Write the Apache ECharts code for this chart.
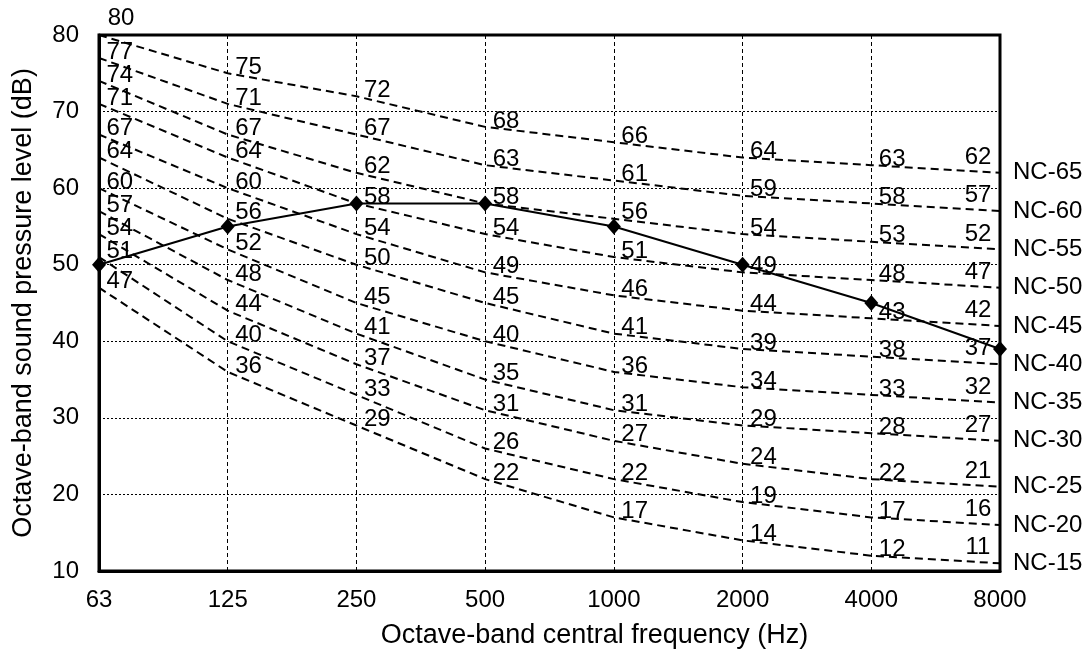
<!DOCTYPE html>
<html>
<head>
<meta charset="utf-8">
<script src="https://cdn.jsdelivr.net/npm/echarts@6/dist/echarts.min.js"></script>
<style>
  html, body { margin: 0; padding: 0; background: #fff; }
  #chart { width: 1089px; height: 654px; }
</style>
</head>
<body>
<div id="chart"></div>
<script>
// octave bands
var bands = ['63', '125', '250', '500', '1000', '2000', '4000', '8000'];

// NC curves
var nc15 = [47, 36, 29, 22, 17, 14, 12, 11];
var nc20 = [51, 40, 33, 26, 22, 19, 17, 16];
var nc25 = [54, 44, 37, 31, 27, 24, 22, 21];
var nc30 = [57, 48, 41, 35, 31, 29, 28, 27];
var nc35 = [60, 52, 45, 40, 36, 34, 33, 32];
var nc40 = [64, 56, 50, 45, 41, 39, 38, 37];
var nc45 = [67, 60, 54, 49, 46, 44, 43, 42];
var nc50 = [71, 64, 58, 54, 51, 49, 48, 47];
var nc55 = [74, 67, 62, 58, 56, 54, 53, 52];
var nc60 = [77, 71, 67, 63, 61, 59, 58, 57];
var nc65 = [80, 75, 72, 68, 66, 64, 63, 62];

// measured spectrum
var measured = [50, 55, 58, 58, 55, 50, 45, 39];

var yTicks = [10, 20, 30, 40, 50, 60, 70, 80];

var ncCurves = [
  ['NC-15', nc15], ['NC-20', nc20], ['NC-25', nc25], ['NC-30', nc30],
  ['NC-35', nc35], ['NC-40', nc40], ['NC-45', nc45], ['NC-50', nc50],
  ['NC-55', nc55], ['NC-60', nc60], ['NC-65', nc65]
];

var FONT = 'Liberation Sans, Arial, sans-serif';

var myChart = echarts.init(document.getElementById('chart'));

function ncSeries(name, vals) {
  var data = vals.map(function (v, i) {
    var d = { value: v };
    if (i == vals.length - 1) {
      // last column: label sits up-left of the point
      d.label = { position: 'top', offset: [-22, 4] };
    }
    if (i == 0 && v == 80) {
      d.label = { position: 'top', offset: [22, 3] };
    }
    return d;
  });
  return {
    name: name,
    type: 'line',
    data: data,
    symbol: 'circle',
    symbolSize: 1,
    itemStyle: { color: 'rgba(0,0,0,0)' },
    lineStyle: { color: '#000', width: 2, type: [8, 5] },
    label: {
      show: true,
      position: 'right',
      distance: 7,
      offset: [0, -6],
      color: '#000',
      fontSize: 24,
      fontFamily: FONT
    },
    endLabel: {
      show: true,
      formatter: name,
      color: '#000',
      fontSize: 24,
      fontFamily: FONT,
      distance: 13
    },
    emphasis: { disabled: true },
    silent: true,
    animation: false,
    z: 3
  };
}

var series = ncCurves.map(function (c) { return ncSeries(c[0], c[1]); });

series.push({
  name: 'measured',
  type: 'line',
  data: measured,
  symbol: 'diamond',
  symbolSize: [14, 16],
  itemStyle: { color: '#000' },
  lineStyle: { color: '#000', width: 2 },
  label: { show: false },
  silent: true,
  animation: false,
  z: 5
});

var option = {
  backgroundColor: '#fff',
  animation: false,
  grid: {
    left: 99, right: 89, top: 35, bottom: 81,
    show: true,
    borderColor: '#000',
    borderWidth: 3,
    backgroundColor: 'transparent'
  },
  xAxis: {
    type: 'category',
    data: bands,
    boundaryGap: false,
    name: 'Octave-band central frequency (Hz)',
    nameLocation: 'middle',
    nameGap: 51,
    nameTextStyle: { color: '#000', fontSize: 27, fontFamily: FONT, padding: [0, 0, 0, 90] },
    axisLine: { show: true, lineStyle: { color: '#000', width: 3 } },
    axisTick: { show: false },
    axisLabel: { color: '#000', fontSize: 24, fontFamily: FONT, margin: 17 },
    splitLine: { show: true, lineStyle: { color: '#000', width: 1, type: [4, 3] } }
  },
  yAxis: {
    type: 'value',
    min: 10,
    max: 80,
    interval: 10,
    name: 'Octave-band sound pressure level (dB)',
    nameLocation: 'middle',
    nameGap: 62,
    nameTextStyle: { color: '#000', fontSize: 27, fontFamily: FONT },
    axisLine: { show: true, lineStyle: { color: '#000', width: 3 } },
    axisTick: { show: false },
    axisLabel: {
      color: '#000', fontSize: 24, fontFamily: FONT, margin: 20,
      formatter: function (v) { return yTicks.indexOf(v) >= 0 ? String(v) : ''; }
    },
    splitLine: { show: true, lineStyle: { color: '#000', width: 1, type: [2, 2] } }
  },
  series: series
};

myChart.setOption(option);
</script>
</body>
</html>
